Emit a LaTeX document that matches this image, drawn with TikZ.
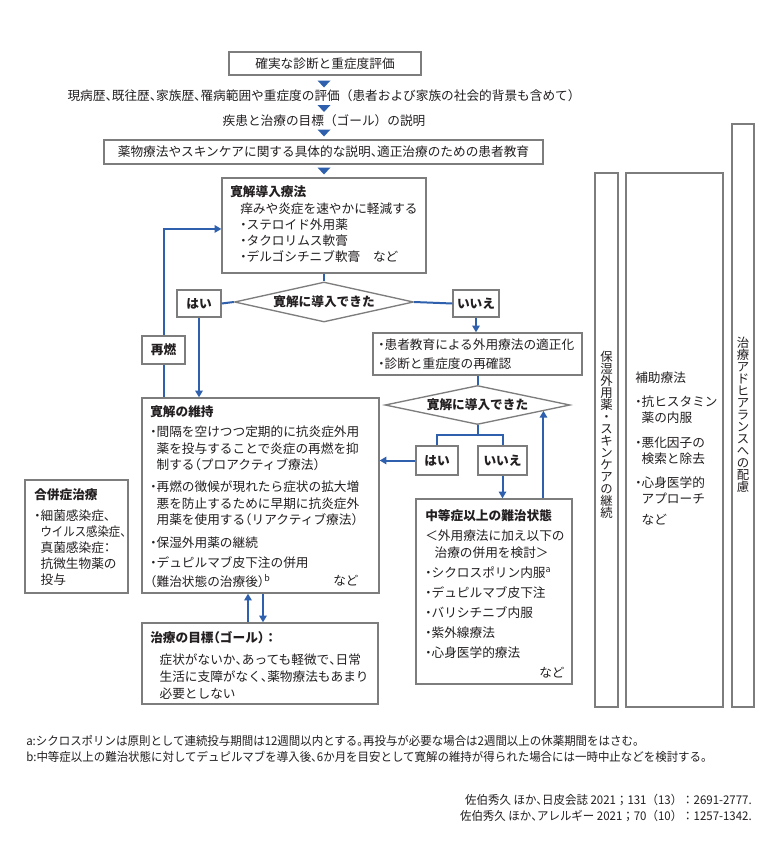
\documentclass[tikz,border=0pt]{standalone}
\usepackage{fontspec}
\usepackage{graphicx}
\setmainfont{Noto Sans CJK JP}
\newfontfamily\condfont{Noto Sans CJK JP}[FakeStretch=0.955]
\usetikzlibrary{arrows.meta,shapes.geometric,fit,calc}
\definecolor{flowblue}{RGB}{46,96,174}
\definecolor{boxgray}{RGB}{125,125,125}
\definecolor{txt}{RGB}{35,31,32}
\newcommand\hw[1]{{\addfontfeature{RawFeature=+halt}#1}}
\newcommand\tight[1]{\scalebox{0.9}[1]{#1}}
\newcommand\nk{\hw{・}}
\newcommand\tn{\hw{、}}
\newcommand\ind{\hspace*{0.5em}}
\newcommand\dtri[2]{\coordinate (#1) at #2;
  \fill[flowblue] ($(#1)+(-6.5,-3.5)$) -- ($(#1)+(6.5,-3.5)$) -- ($(#1)+(0,3.5)$) -- cycle;}
\tikzset{
  box/.style={draw=boxgray, line width=1pt, inner sep=0pt, text=txt,
    font=\fontsize{9.5}{12}\selectfont, align=center},
  ybox/.style={box, font=\fontsize{9.5}{12}\selectfont\bfseries},
  flow/.style={draw=flowblue, line width=1.5pt},
  arr/.style={flow, -{Triangle[length=5pt,width=5.5pt]}},
  txtnode/.style={inner sep=0pt, align=left, text=txt, anchor=north west},
  dia/.style={diamond, draw=boxgray, line width=1pt, inner sep=0pt, aspect=4.5,
    text=txt, font=\fontsize{9.5}{12}\selectfont\bfseries},
  foot/.style={inner sep=0pt, text=txt, font=\fontsize{9}{11}\selectfont\condfont},
  vert/.style={inner sep=0pt, text=txt, align=center, font=\fontsize{9.3}{9}\selectfont}
}
\begin{document}
\begin{tikzpicture}[x=0.75pt,y=-0.75pt]
\useasboundingbox (0,0) rectangle (780,846);
\fill[white] (0,0) rectangle (780,846);

% top sequence
\node[box, fit={(229,52) (421,75)}] (A) {};
\node[inner sep=0pt, text=txt, font=\fontsize{9.5}{12}\selectfont] (At) at (A) {確実な診断と重症度評価};
\dtri{t1}{(324,84)}
\node[inner sep=0pt, text=txt, font=\fontsize{9.5}{12}\selectfont] (L2) at (324,96)
  {現病歴\tn 既往歴\tn 家族歴\tn 罹病範囲や重症度の評価（患者および家族の社会的背景も含めて）};
\dtri{t2}{(324,108.5)}
\node[inner sep=0pt, text=txt, font=\fontsize{9.5}{12}\selectfont] (L3) at (324,121)
  {疾患と治療の目標（ゴール）の説明};
\dtri{t3}{(324,133)}
\node[box, fit={(104,140) (543,164)}] (B) {};
\node[inner sep=0pt, text=txt, font=\fontsize{9.5}{12}\selectfont] (Bt) at (B)
  {薬物療法やスキンケアに関する具体的な説明\tn 適正治療のための患者教育};
\dtri{t4}{(324,171)}

% remission induction
\node[box, fit={(222,178) (426,273)}] (C) {};
\node[txtnode, font=\fontsize{9.5}{12.2}\selectfont] (Ct) at (230,185.7)
  {\textbf{寛解導入療法}\\
   \hspace*{7.5pt}痒みや炎症を速やかに軽減する\\
   \hspace*{7.5pt}\nk ステロイド外用薬\\
   \hspace*{7.5pt}\nk タクロリムス軟膏\\
   \hspace*{7.5pt}\nk デルゴシチニブ軟膏\hspace{1em}など};

\node[dia, minimum width=134.25pt, minimum height=30pt] (D1) at (324,302) {寛解に導入できた};
\node[ybox, fit={(177,290) (221,317)}] (Y1) {};
\node[inner sep=0pt, text=txt, font=\fontsize{9.5}{12}\selectfont\bfseries] at (Y1) {はい};
\node[ybox, fit={(453,290) (499,317)}] (N1) {};
\node[inner sep=0pt, text=txt, font=\fontsize{9.5}{12}\selectfont\bfseries] at (N1) {いいえ};

\node[ybox, fit={(142,336) (185,364)}] (R) {};
\node[inner sep=0pt, text=txt, font=\fontsize{9.5}{12}\selectfont\bfseries] at (R) {再燃};

% re-check
\node[box, fit={(373,333) (582,375)}] (E) {};
\node[txtnode, font=\fontsize{9.5}{13.8}\selectfont] (Et) at (378,339)
  {\nk 患者教育による外用療法の適正化\\
   \nk 診断と重症度の再確認};

\node[dia, minimum width=138.75pt, minimum height=29.25pt] (D2) at (477.5,405) {寛解に導入できた};
\node[ybox, fit={(416,446) (458,475)}] (Y2) {};
\node[inner sep=0pt, text=txt, font=\fontsize{9.5}{12}\selectfont\bfseries] at (Y2) {はい};
\node[ybox, fit={(478,446) (527,475)}] (N2) {};
\node[inner sep=0pt, text=txt, font=\fontsize{9.5}{12}\selectfont\bfseries] at (N2) {いいえ};

% maintenance
\node[box, fit={(142,398) (379,593)}] (G) {};
\node[txtnode, font=\fontsize{9.5}{12.4}\selectfont] (Gt) at (150,405.7)
  {\textbf{寛解の維持}\\[2.6pt]
   \nk 間隔を空けつつ定期的に抗炎症外用\\
   \ind 薬を投与することで炎症の再燃を抑\\
   \ind 制する\hw{（}プロアクティブ療法\hw{）}\\[4.1pt]
   \nk 再燃の徴候が現れたら症状の拡大増\\
   \ind 悪を防止するために早期に抗炎症外\\
   \ind 用薬を使用する\hw{（}リアクティブ療法\hw{）}\\[4.5pt]
   \nk 保湿外用薬の継続\\[2.6pt]
   \nk デュピルマブ皮下注の併用\\[1.8pt]
   \hw{（}難治状態の治療後\hw{）}\textsuperscript{b}};
\node[inner sep=0pt, text=txt, anchor=west, font=\fontsize{9.5}{12}\selectfont] (Gn) at (333,581) {など};

% complication
\node[box, fit={(25,480) (128,593)}] (H) {};
\node[txtnode, font=\fontsize{9.5}{12}\selectfont] (Ht) at (34,488.7)
  {\textbf{合併症治療}\\[3.8pt]
   \nk 細菌感染症\tn\\
   \ind \tight{ウイルス感染症\tn}\\
   \ind 真菌感染症\hw{：}\\
   \ind 抗微生物薬の\\
   \ind 投与};

% refractory
\node[box, fit={(416,499) (572,684)}] (F) {};
\node[txtnode, font=\fontsize{9.5}{15}\selectfont] (Ft) at (425,509.7)
  {\textbf{中等症以上の難治状態}\\
   ＜外用療法に加え以下の\\[-2.2pt]
   \hspace*{7pt}治療の併用を検討＞\\
   \nk シクロスポリン内服\textsuperscript{a}\\
   \nk デュピルマブ皮下注\\
   \nk バリシチニブ内服\\
   \nk 紫外線療法\\
   \nk 心身医学的療法};
\node[inner sep=0pt, text=txt, anchor=west, font=\fontsize{9.5}{12}\selectfont] (Fn) at (539,673) {など};

% goal
\node[box, fit={(142,623) (378,704)}] (K) {};
\node[txtnode, font=\fontsize{9.5}{12.7}\selectfont] (Kt) at (150,630.7)
  {\textbf{治療の目標\hw{（}ゴール\hw{）}：}\\[4.5pt]
   \hspace*{7pt}症状がないか\tn あっても軽微で\tn 日常\\
   \hspace*{7pt}生活に支障がなく\tn 薬物療法もあまり\\
   \hspace*{7pt}必要としない};

% right columns
\node[box, fit={(595,173) (618,707)}] (P) {};
\node[vert] (Pt) at (606.5,435) {保\\湿\\外\\用\\薬\\・\\ス\\キ\\ン\\ケ\\ア\\の\\継\\続};
\node[box, fit={(626,173) (723,707)}] (Q) {};
\node[txtnode, font=\fontsize{9.5}{12}\selectfont] (Qt) at (635,371.7)
  {補助療法\\[6pt]
   \nk 抗ヒスタミン\\
   \ind 薬の内服\\[6.5pt]
   \nk 悪化因子の\\
   \ind 検索と除去\\[6.5pt]
   \nk 心身医学的\\
   \ind アプローチ\\[3.5pt]
   \ind など};
\node[box, fit={(732,124) (754,707)}] (S) {};
\node[vert] (St) at (743,414.5) {治\\療\\ア\\ド\\ヒ\\ア\\ラ\\ン\\ス\\へ\\の\\配\\慮};

% connectors
\draw[flow] (C.south) -- (D1.north);
\draw[flow] (D1.west) -- (Y1.east);
\draw[flow] (D1.east) -- (N1.west);
\draw[arr] (N1.south) -- (N1.south |- E.north);
\draw[arr] (Y1.south) -- (Y1.south |- G.north);
\draw[flow] (R.south) -- (R.south |- G.north);
\draw[arr] (R.north) |- ([yshift=-2.6pt]C.west);
\draw[flow] (E.south) -- (E.south |- D2.north);
\coordinate (fk) at (477.5,435);
\draw[flow] (D2.south) -- (fk);
\draw[flow] (Y2.north) |- (fk) -| (N2.north);
\draw[arr] (Y2.west) -- (Y2.west -| G.east);
\draw[arr] (N2.south) -- (N2.south |- F.north);
\coordinate (D2e) at ($(D2.south)!0.708!(D2.east)$);
\draw[arr] (D2e |- F.north) -- (D2e);
\coordinate (xa) at (248,0);
\coordinate (xb) at (263,0);
\draw[arr] (xa |- K.north) -- (xa |- G.south);
\draw[arr] (xb |- G.south) -- (xb |- K.north);

% footnotes
\node[foot, anchor=west] (fa) at (26,741)
  {a:シクロスポリンは原則として連続投与期間は12週間以内とする\hw{。}再投与が必要な場合は2週間以上の休薬期間をはさむ\hw{。}};
\node[foot, anchor=west] (fb) at (26,757)
  {b:中等症以上の難治状態に対してデュピルマブを導入後\tn 6か月を目安として寛解の維持が得られた場合には一時中止などを検討する\hw{。}};
\node[foot, anchor=east] (r1) at (752,800)
  {佐伯秀久 ほか\tn 日皮会誌 2021；131（13）：2691-2777.};
\node[foot, anchor=east] (r2) at (752,816)
  {佐伯秀久 ほか\tn アレルギー 2021；70（10）：1257-1342.};
\end{tikzpicture}
\end{document}
